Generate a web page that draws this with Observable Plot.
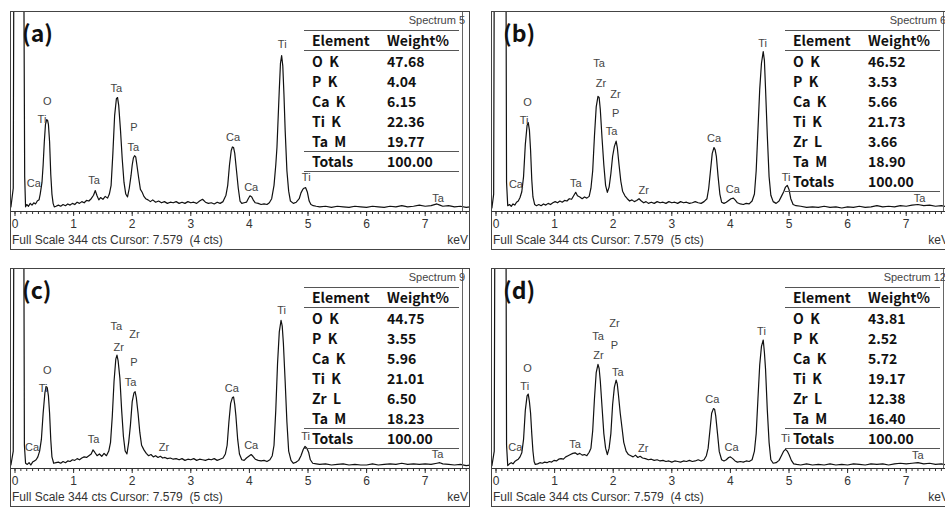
<!DOCTYPE html>
<html><head><meta charset="utf-8">
<script src="https://cdn.jsdelivr.net/npm/d3@7"></script>
<script src="https://cdn.jsdelivr.net/npm/@observablehq/plot@0.6"></script>
<style>
body{margin:0;background:#fff;}
#root{position:relative;width:945px;height:508px;overflow:hidden;background:#fff;}
.panel{position:absolute;width:460px;height:239px;}
.panel svg{position:absolute;left:0;top:0;overflow:visible;}
.frame{position:absolute;left:0;top:0;width:460px;height:239px;border:1px solid #444;box-sizing:border-box;}
.vline{position:absolute;left:452px;top:0;width:0;height:200px;border-left:1px solid #666;}
.hl{position:absolute;left:294px;width:155px;height:0;border-top:1px solid #555;}
.cell{position:absolute;height:20px;line-height:20px;font-family:"Noto Sans CJK KR","Noto Sans",sans-serif;font-size:14px;color:#111;white-space:nowrap;}
.spec{position:absolute;right:5px;top:3px;font-family:"Liberation Sans",Arial,sans-serif;font-size:11px;color:#444;}
.tag{position:absolute;left:12px;top:6px;font-family:"Noto Sans CJK KR","Noto Sans",sans-serif;font-weight:700;font-size:23px;line-height:30px;color:#111;}
.foot{position:absolute;left:2px;top:222px;font-family:"Liberation Sans",Arial,sans-serif;font-size:12px;line-height:15px;color:#333;white-space:pre;}
.kev{position:absolute;right:2px;top:222px;font-family:"Liberation Sans",Arial,sans-serif;font-size:12px;line-height:15px;color:#333;}
</style></head>
<body><div id="root"></div>
<script>
// ---------- data ----------
const panelTags = ["(a)", "(b)", "(c)", "(d)"];
const spectrumNames = ["Spectrum 5", "Spectrum 6", "Spectrum 9", "Spectrum 12"];
const fullScaleCts = 344;
const cursorKeV = "7.579";
const cursorCts = [4, 5, 5, 4];
const majorTicks = [0, 1, 2, 3, 4, 5, 6, 7];
const xDomain = [-0.077, 7.773];
const totalsRuleShown = [true, false, true, true];

// spectra: [energy keV, counts]
const specA = [[-0.07,8],[-0.03,40],[-0.02,420],[0.15,420],[0.165,60],[0.18,8],[0.2,12],[0.23,9],[0.26,14],[0.29,11],[0.32,15],[0.35,13],[0.38,18],[0.41,20],[0.43,30],[0.46,50],[0.48,80],[0.50,120],[0.52,150],[0.54,158],[0.555,157],[0.57,150],[0.59,120],[0.61,64],[0.63,30],[0.65,14],[0.67,8],[0.70,9],[0.74,11],[0.78,9],[0.82,12],[0.86,10],[0.90,13],[0.94,11],[0.98,14],[1.02,12],[1.06,16],[1.10,14],[1.14,17],[1.18,15],[1.22,19],[1.26,18],[1.30,22],[1.34,28],[1.37,36],[1.40,27],[1.43,20],[1.46,24],[1.50,21],[1.54,26],[1.58,23],[1.61,30],[1.64,45],[1.67,100],[1.70,165],[1.73,194],[1.75,196],[1.77,182],[1.80,140],[1.83,90],[1.86,50],[1.89,30],[1.92,25],[1.95,40],[1.98,62],[2.00,80],[2.02,92],[2.04,96],[2.06,94],[2.08,80],[2.11,58],[2.14,38],[2.17,33],[2.20,26],[2.23,22],[2.27,20],[2.31,17],[2.35,20],[2.40,16],[2.45,18],[2.50,15],[2.55,17],[2.60,14],[2.65,16],[2.70,15],[2.75,17],[2.80,14],[2.85,16],[2.90,14],[2.95,17],[3.00,15],[3.05,16],[3.10,14],[3.15,18],[3.20,21],[3.25,16],[3.30,14],[3.35,15],[3.40,13],[3.45,16],[3.50,14],[3.55,17],[3.60,28],[3.63,45],[3.66,80],[3.69,105],[3.71,111],[3.73,110],[3.75,100],[3.78,70],[3.81,40],[3.84,18],[3.87,14],[3.91,15],[3.95,16],[3.98,22],[4.01,27],[4.04,25],[4.07,19],[4.10,15],[4.15,14],[4.20,12],[4.25,13],[4.30,12],[4.34,15],[4.38,22],[4.42,45],[4.45,80],[4.47,110],[4.49,160],[4.51,210],[4.53,255],[4.55,268],[4.57,250],[4.59,200],[4.61,140],[4.64,70],[4.67,35],[4.70,18],[4.75,14],[4.80,16],[4.85,22],[4.88,32],[4.91,38],[4.93,40],[4.96,41],[4.99,33],[5.02,18],[5.05,12],[5.09,10],[5.14,9],[5.2,8],[5.3,9],[5.4,7],[5.5,9],[5.6,8],[5.7,7],[5.8,9],[5.9,8],[6.0,7],[6.1,9],[6.2,8],[6.3,7],[6.4,9],[6.5,8],[6.6,10],[6.7,8],[6.8,9],[6.9,11],[7.0,9],[7.1,10],[7.2,13],[7.25,11],[7.3,9],[7.4,10],[7.5,8],[7.6,9],[7.7,7],[7.78,8]];
const specB = [[-0.07,6],[-0.04,30],[-0.03,420],[0.17,420],[0.18,50],[0.20,10],[0.23,12],[0.26,9],[0.29,13],[0.32,11],[0.35,16],[0.38,18],[0.41,24],[0.44,34],[0.47,60],[0.50,115],[0.53,148],[0.55,153],[0.57,140],[0.59,105],[0.61,55],[0.63,25],[0.66,12],[0.69,10],[0.73,12],[0.77,10],[0.81,13],[0.85,11],[0.89,14],[0.93,12],[0.97,15],[1.01,17],[1.05,15],[1.09,18],[1.13,16],[1.17,19],[1.21,18],[1.25,22],[1.29,21],[1.33,28],[1.36,33],[1.39,27],[1.43,25],[1.47,22],[1.51,25],[1.55,23],[1.59,26],[1.62,40],[1.65,70],[1.68,130],[1.71,180],[1.74,198],[1.76,196],[1.78,175],[1.81,125],[1.84,80],[1.87,45],[1.90,33],[1.93,42],[1.96,65],[1.99,95],[2.02,112],[2.05,121],[2.07,110],[2.10,80],[2.13,52],[2.16,35],[2.20,27],[2.24,22],[2.28,18],[2.32,20],[2.36,17],[2.40,19],[2.44,22],[2.48,18],[2.52,15],[2.56,17],[2.60,14],[2.65,16],[2.70,14],[2.75,17],[2.80,15],[2.85,16],[2.90,14],[2.95,17],[3.00,15],[3.05,16],[3.10,14],[3.15,17],[3.20,15],[3.25,16],[3.30,14],[3.35,15],[3.40,17],[3.45,15],[3.50,14],[3.55,17],[3.60,22],[3.63,40],[3.66,70],[3.69,100],[3.72,110],[3.74,106],[3.76,95],[3.79,60],[3.82,30],[3.85,16],[3.89,14],[3.93,16],[3.97,19],[4.01,22],[4.05,23],[4.08,20],[4.12,15],[4.17,13],[4.22,12],[4.27,14],[4.32,13],[4.37,18],[4.41,30],[4.44,70],[4.47,140],[4.50,210],[4.53,255],[4.56,275],[4.58,260],[4.60,210],[4.63,130],[4.66,60],[4.69,28],[4.73,17],[4.78,14],[4.83,18],[4.87,26],[4.91,34],[4.94,42],[4.97,45],[5.00,38],[5.03,22],[5.07,12],[5.12,10],[5.2,9],[5.3,7],[5.4,8],[5.5,7],[5.6,9],[5.7,7],[5.8,8],[5.9,6],[6.0,8],[6.1,7],[6.2,9],[6.3,7],[6.4,8],[6.5,10],[6.6,8],[6.7,9],[6.8,8],[6.9,10],[7.0,9],[7.1,11],[7.2,12],[7.3,10],[7.4,11],[7.5,9],[7.6,10],[7.7,8],[7.8,9]];
const specC = [[-0.07,6],[-0.03,30],[-0.02,420],[0.15,420],[0.16,40],[0.18,9],[0.21,7],[0.24,10],[0.27,6],[0.30,11],[0.33,13],[0.36,15],[0.39,20],[0.42,30],[0.45,50],[0.48,95],[0.51,130],[0.53,141],[0.55,139],[0.57,125],[0.59,95],[0.61,50],[0.63,20],[0.66,9],[0.70,10],[0.74,11],[0.78,9],[0.82,12],[0.86,10],[0.90,13],[0.94,12],[0.98,15],[1.02,14],[1.06,17],[1.10,15],[1.14,18],[1.18,20],[1.22,19],[1.26,22],[1.30,25],[1.33,32],[1.36,28],[1.40,22],[1.44,25],[1.48,21],[1.52,26],[1.56,22],[1.60,30],[1.63,45],[1.66,90],[1.69,150],[1.72,188],[1.74,195],[1.76,185],[1.79,155],[1.82,100],[1.85,55],[1.88,30],[1.91,25],[1.94,45],[1.97,75],[2.00,115],[2.03,130],[2.05,132],[2.07,122],[2.10,95],[2.13,62],[2.16,40],[2.20,32],[2.24,26],[2.28,22],[2.32,24],[2.36,20],[2.40,22],[2.44,19],[2.48,21],[2.52,18],[2.56,19],[2.60,17],[2.65,18],[2.70,16],[2.75,17],[2.80,15],[2.85,17],[2.90,14],[2.95,16],[3.00,15],[3.05,17],[3.10,14],[3.15,16],[3.20,15],[3.25,14],[3.30,16],[3.35,15],[3.40,17],[3.45,14],[3.50,16],[3.55,18],[3.59,25],[3.62,40],[3.65,80],[3.68,112],[3.71,122],[3.73,123],[3.75,110],[3.77,90],[3.80,50],[3.83,25],[3.87,15],[3.91,14],[3.95,18],[3.99,21],[4.03,24],[4.06,21],[4.10,16],[4.15,14],[4.20,13],[4.25,14],[4.30,12],[4.35,15],[4.39,22],[4.42,40],[4.45,100],[4.48,180],[4.51,235],[4.54,255],[4.56,245],[4.58,215],[4.61,150],[4.64,80],[4.67,30],[4.71,14],[4.75,9],[4.80,11],[4.84,14],[4.88,22],[4.92,33],[4.95,38],[4.98,35],[5.01,28],[5.04,15],[5.08,9],[5.14,8],[5.2,7],[5.3,8],[5.4,6],[5.5,7],[5.6,8],[5.7,6],[5.8,7],[5.9,6],[6.0,6],[6.1,8],[6.2,6],[6.3,7],[6.4,8],[6.5,7],[6.6,9],[6.7,7],[6.8,8],[6.9,7],[7.0,8],[7.1,7],[7.2,9],[7.25,10],[7.3,8],[7.4,7],[7.5,6],[7.6,7],[7.7,5],[7.8,6]];
const specD = [[-0.07,5],[-0.03,30],[-0.02,420],[0.17,420],[0.18,40],[0.20,5],[0.23,8],[0.26,10],[0.29,8],[0.32,12],[0.35,14],[0.38,16],[0.41,20],[0.44,27],[0.47,50],[0.50,100],[0.53,125],[0.55,128],[0.57,115],[0.59,95],[0.61,60],[0.63,30],[0.65,12],[0.67,7],[0.71,8],[0.75,10],[0.79,9],[0.83,11],[0.87,10],[0.91,12],[0.95,11],[0.99,14],[1.03,13],[1.07,16],[1.11,17],[1.15,16],[1.19,20],[1.23,22],[1.27,24],[1.31,26],[1.35,27],[1.39,24],[1.43,26],[1.47,23],[1.51,24],[1.55,22],[1.59,28],[1.62,35],[1.65,65],[1.68,120],[1.71,165],[1.74,179],[1.76,172],[1.78,150],[1.81,105],[1.84,60],[1.87,35],[1.90,24],[1.93,35],[1.96,60],[1.99,110],[2.02,140],[2.05,152],[2.07,145],[2.09,126],[2.12,95],[2.15,70],[2.18,45],[2.22,30],[2.26,24],[2.30,22],[2.34,20],[2.38,23],[2.42,19],[2.46,21],[2.50,18],[2.55,17],[2.60,15],[2.65,16],[2.70,14],[2.75,15],[2.80,13],[2.85,14],[2.90,12],[2.95,13],[3.00,11],[3.05,13],[3.10,12],[3.15,11],[3.20,13],[3.25,12],[3.30,14],[3.35,12],[3.40,13],[3.45,15],[3.50,13],[3.55,15],[3.59,22],[3.62,35],[3.65,65],[3.68,95],[3.71,103],[3.73,102],[3.75,90],[3.78,60],[3.81,29],[3.85,15],[3.89,13],[3.93,15],[3.97,19],[4.00,20],[4.04,17],[4.08,13],[4.12,11],[4.17,12],[4.22,11],[4.27,13],[4.32,12],[4.37,15],[4.41,30],[4.44,60],[4.47,120],[4.50,178],[4.53,210],[4.56,221],[4.58,200],[4.60,170],[4.63,100],[4.66,45],[4.69,15],[4.73,9],[4.78,10],[4.83,14],[4.87,22],[4.91,30],[4.94,33],[4.97,30],[5.00,24],[5.04,14],[5.08,8],[5.13,7],[5.2,6],[5.3,8],[5.4,6],[5.5,7],[5.6,6],[5.7,8],[5.8,6],[5.9,7],[6.0,6],[6.1,8],[6.2,7],[6.3,6],[6.4,8],[6.5,7],[6.6,8],[6.7,6],[6.8,8],[6.9,9],[7.0,8],[7.1,9],[7.2,10],[7.3,8],[7.4,9],[7.5,7],[7.6,8],[7.7,6],[7.8,7]];

// peak labels: [text, energy keV, counts]
const labelsA = [["Ca",0.32,48],["O",0.55,190],["Ti",0.46,159],["Ta",1.35,53],["Ta",1.73,212],["P",2.03,145],["Ta",2.02,110],["Ca",3.72,127],["Ca",4.03,42],["Ti",4.56,288],["Ti",4.97,59],["Ta",7.22,23]];
const labelsB = [["Ca",0.34,47],["O",0.54,188],["Ti",0.48,156],["Ta",1.36,48],["Ta",1.76,255],["Zr",1.79,220],["Zr",2.04,202],["P",2.04,169],["Ta",1.97,137],["Zr",2.52,36],["Ca",3.72,126],["Ca",4.04,38],["Ti",4.55,289],["Ti",4.95,59],["Ta",7.23,23]];
const labelsC = [["Ca",0.29,36],["O",0.55,169],["Ti",0.48,138],["Ta",1.34,50],["Ta",1.73,244],["Zr",1.77,208],["Zr",2.04,230],["P",2.03,183],["Ta",1.97,148],["Zr",2.54,36],["Ca",3.70,138],["Ca",4.03,39],["Ti",4.55,271],["Ti",4.96,55],["Ta",7.21,24]];
const labelsD = [["Ca",0.33,36],["O",0.54,172],["Ti",0.49,141],["Ta",1.35,41],["Zr",2.02,250],["Ta",1.74,227],["P",2.02,212],["Zr",1.75,195],["Ta",2.08,165],["Zr",2.51,34],["Ca",3.69,118],["Ca",4.02,37],["Ti",4.53,236],["Ti",4.94,51],["Ta",7.20,23]];

// quantification tables
const elementsA = ["O K","P K","Ca K","Ti K","Ta M"];
const weightsA = ["47.68","4.04","6.15","22.36","19.77"];
const elementsB = ["O K","P K","Ca K","Ti K","Zr L","Ta M"];
const weightsB = ["46.52","3.53","5.66","21.73","3.66","18.90"];
const elementsC = ["O K","P K","Ca K","Ti K","Zr L","Ta M"];
const weightsC = ["44.75","3.55","5.96","21.01","6.50","18.23"];
const elementsD = ["O K","P K","Ca K","Ti K","Zr L","Ta M"];
const weightsD = ["43.81","2.52","5.72","19.17","12.38","16.40"];
const totalWeight = "100.00";

// ---------- layout ----------
const panelPos = [[10,11],[491,11],[10,268],[491,268]];
const specs = [specA, specB, specC, specD];
const labels = [labelsA, labelsB, labelsC, labelsD];
const elements = [elementsA, elementsB, elementsC, elementsD];
const weights = [weightsA, weightsB, weightsC, weightsD];
const minorTicks = d3.range(0, 78).map(i => i / 10);

const root = document.getElementById("root");

function el(cls, style, text) {
  const d = document.createElement("div");
  d.className = cls;
  Object.assign(d.style, style || {});
  if (text != null) d.textContent = text;
  return d;
}

for (let p = 0; p < 4; p++) {
  const panel = el("panel", {left: panelPos[p][0] + "px", top: panelPos[p][1] + "px"});
  root.appendChild(panel);

  const chart = Plot.plot({
    width: 460,
    height: 222,
    marginTop: 0, marginLeft: 0, marginRight: 0, marginBottom: 22,
    x: {domain: xDomain, label: null},
    y: {domain: [0, fullScaleCts], axis: null},
    style: {background: "transparent", fontFamily: "'Liberation Sans', Arial, sans-serif", color: "#333"},
    marks: [
      Plot.ruleY([0], {stroke: "#333", strokeWidth: 1}),
      Plot.axisX({ticks: minorTicks, tickSize: 3, tickFormat: () => "", stroke: "#333"}),
      Plot.axisX({ticks: majorTicks, tickSize: 5, tickPadding: 3, fontSize: 12, stroke: "#333", fill: "#333", tickFormat: d3.format("d")}),
      Plot.line(specs[p], {x: d => d[0], y: d => d[1], stroke: "#111", strokeWidth: 1.2, clip: true}),
      Plot.text(labels[p], {x: d => d[1], y: d => d[2], text: d => d[0], fontSize: 11, fill: "#444"})
    ]
  });
  panel.appendChild(chart);

  panel.appendChild(el("vline"));
  panel.appendChild(el("spec", {}, spectrumNames[p]));
  panel.appendChild(el("tag", {}, panelTags[p]));

  // table
  const n = elements[p].length;
  const rowTop = i => 40 + 20 * i; // top of data row i
  panel.appendChild(el("hl", {top: "19px"}));
  panel.appendChild(el("hl", {top: "39px"}));
  panel.appendChild(el("cell", {left: "302px", top: "19px", fontWeight: 700}, "Element"));
  panel.appendChild(el("cell", {left: "377px", top: "19px", fontWeight: 700}, "Weight%"));
  for (let i = 0; i < n; i++) {
    panel.appendChild(el("cell", {left: "302px", top: rowTop(i) + "px", fontWeight: 700}, elements[p][i].replace(" ", "\u00a0\u00a0")));
    panel.appendChild(el("cell", {left: "377px", top: rowTop(i) + "px", fontWeight: 700}, weights[p][i]));
  }
  if (totalsRuleShown[p]) panel.appendChild(el("hl", {top: rowTop(n) + "px"}));
  panel.appendChild(el("cell", {left: "302px", top: rowTop(n) + "px", fontWeight: 700}, "Totals"));
  panel.appendChild(el("cell", {left: "377px", top: rowTop(n) + "px", fontWeight: 700}, totalWeight));
  panel.appendChild(el("hl", {top: rowTop(n + 1) + "px"}));

  panel.appendChild(el("foot", {}, `Full Scale ${fullScaleCts} cts Cursor: ${cursorKeV}  (${cursorCts[p]} cts)`));
  panel.appendChild(el("kev", {}, "keV"));
  panel.appendChild(el("frame"));
}
</script>
</body></html>
